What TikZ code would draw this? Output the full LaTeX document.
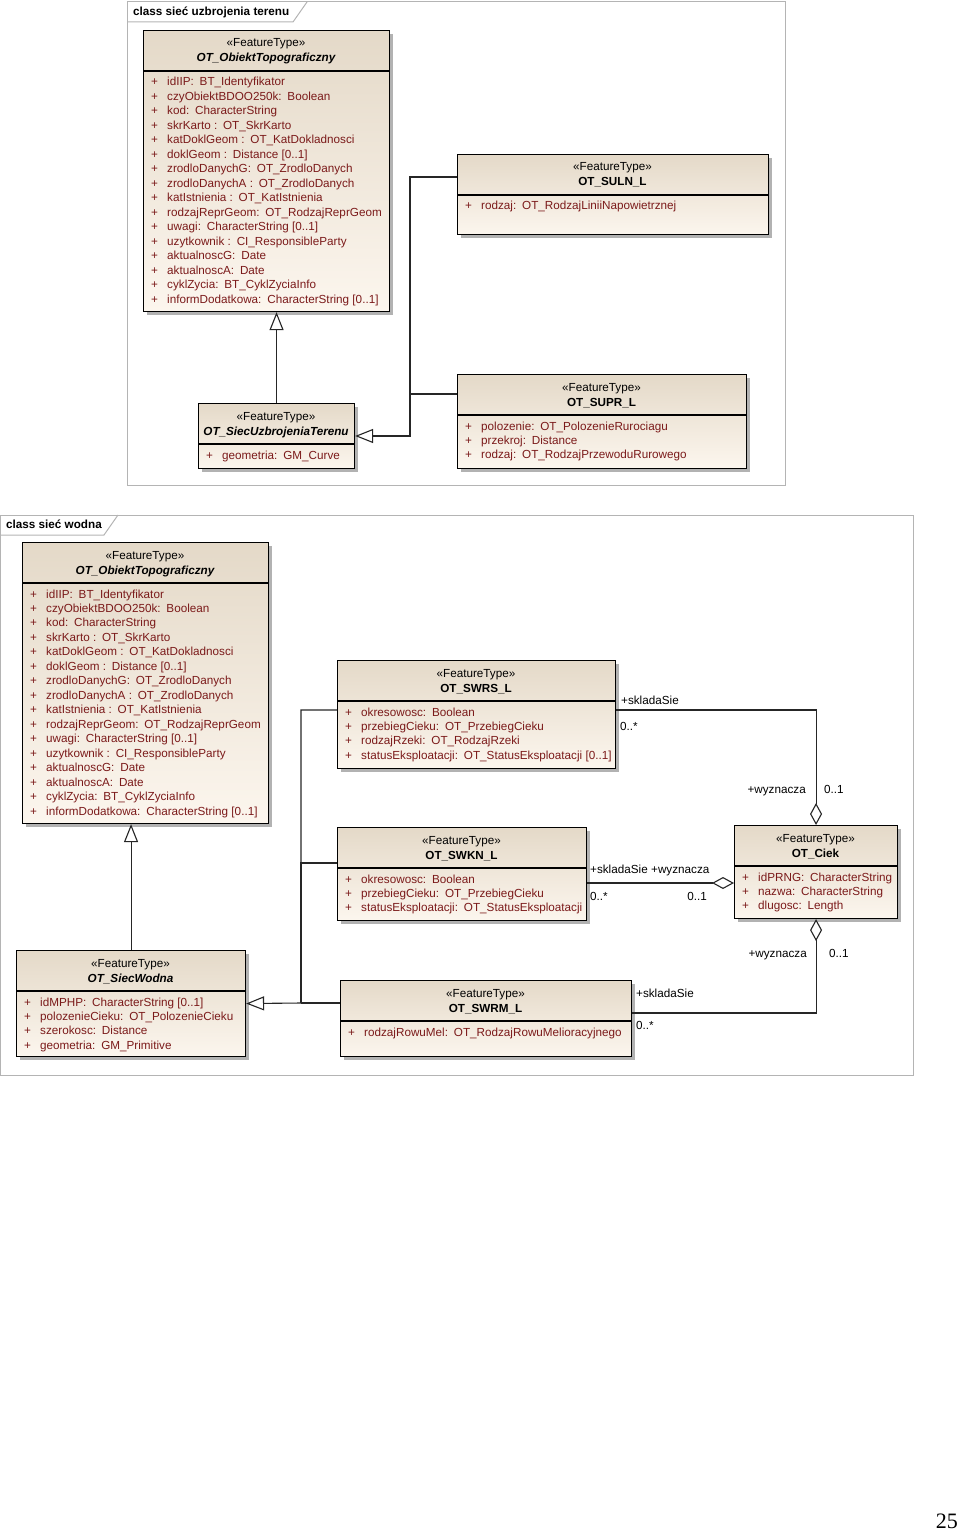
\documentclass[tikz,border=0pt]{standalone}
\usepackage{fontspec}
\setmainfont{Liberation Sans}
\newfontfamily\serifnum{Liberation Serif}
\usetikzlibrary{arrows.meta,shadows,calc}
\definecolor{attr}{HTML}{7B1A1A}
\definecolor{boxtop}{HTML}{E4D9C8}
\definecolor{boxbot}{HTML}{FCF6EE}
\definecolor{framegray}{HTML}{B4B4B4}
\tikzset{
 classbox/.style={draw=black, line width=1.1pt, top color=boxtop, bottom color=boxbot,
   general shadow={fill=black!30, shadow xshift=3pt, shadow yshift=-3pt}, inner sep=0pt, anchor=north west},
 txt/.style={font=\fontsize{11.7}{14}\selectfont, inner sep=0pt},
 attrtxt/.style={txt, text=attr, anchor=base west},
 lbl/.style={txt, anchor=base west},
 conn/.style={draw=black!85, line width=1.1pt},
 gen/.style={conn, -{Triangle[open, width=14pt, length=18pt, fill=white]}},
 agg/.style={conn, {Diamond[open, width=12pt, length=22pt, fill=white]}-},
 framebox/.style={draw=framegray, line width=1pt},
}
\newcommand\cs{:\enspace}
% #1 name #2 x1 #3 y1 #4 x2 #5 y2 #6 title #7 attrs
\newcommand\mkclass[7]{%
 \pgfmathsetmacro\cw{#4-#2}\pgfmathsetmacro\ch{#5-#3}%
 \node[classbox, minimum width=\cw pt, minimum height=\ch pt] (#1) at (#2,#3) {};
 \draw[line width=1.1pt] (#2,#3+41) -- (#4,#3+41);
 \node[txt, anchor=base] (#1-st) at ({(#2+#4)/2},#3+17) {«FeatureType»};
 \node[txt, anchor=base, font=\fontsize{11.7}{14}\selectfont\bfseries] (#1-nm) at ({(#2+#4)/2},#3+32) {#6};
 \foreach \t [count=\i] in {#7} {
   \node[attrtxt] (#1-p\i) at (#2+8, {#3+56+(\i-1)*14.47}) {+};
   \node[attrtxt] (#1-a\i) at (#2+24, {#3+56+(\i-1)*14.47}) {\t};
 }
}
\begin{document}
\begin{tikzpicture}[x=1pt,y=-1pt]
\useasboundingbox (0,0) rectangle (960,1530);
% ---------- frame 1
\draw[framebox] (127,2) rectangle (785,485);
\draw[framebox] (127,22) -- (293,22) -- (307,2);
\node[lbl, font=\fontsize{11.7}{14}\selectfont\bfseries] (f1lbl) at (133,16) {class sieć uzbrojenia terenu};
% ---------- frame 2
\draw[framebox] (0.5,515) rectangle (913,1075);
\draw[framebox] (0.5,535) -- (104,535) -- (118,515);
\node[lbl, font=\fontsize{11.7}{14}\selectfont\bfseries] (f2lbl) at (6,528) {class sieć wodna};

% ---------- classes top
\mkclass{a1}{143}{30}{389}{311}{\itshape OT\_ObiektTopograficzny}{
 idIIP\cs BT\_Identyfikator,
 czyObiektBDOO250k\cs Boolean,
 kod\cs CharacterString,
 skrKarto \cs OT\_SkrKarto,
 katDoklGeom \cs OT\_KatDokladnosci,
 {doklGeom \cs Distance [0..1]},
 zrodloDanychG\cs OT\_ZrodloDanych,
 zrodloDanychA \cs OT\_ZrodloDanych,
 katIstnienia \cs OT\_KatIstnienia,
 rodzajReprGeom\cs OT\_RodzajReprGeom,
 {uwagi\cs CharacterString [0..1]},
 uzytkownik \cs CI\_ResponsibleParty,
 aktualnoscG\cs Date,
 aktualnoscA\cs Date,
 cyklZycia\cs BT\_CyklZyciaInfo,
 {informDodatkowa\cs CharacterString [0..1]}}
\mkclass{suln}{457}{154}{768}{234}{OT\_SULN\_L}{rodzaj\cs OT\_RodzajLiniiNapowietrznej}
\mkclass{supr}{457}{374}{746}{468}{OT\_SUPR\_L}{
 polozenie\cs OT\_PolozenieRurociagu,
 przekroj\cs Distance,
 rodzaj\cs OT\_RodzajPrzewoduRurowego}
\mkclass{siecu}{198}{403}{354}{468}{\itshape OT\_SiecUzbrojeniaTerenu}{geometria\cs GM\_Curve}

% ---------- classes bottom
\mkclass{a2}{22}{542}{268}{823}{\itshape OT\_ObiektTopograficzny}{
 idIIP\cs BT\_Identyfikator,
 czyObiektBDOO250k\cs Boolean,
 kod\cs CharacterString,
 skrKarto \cs OT\_SkrKarto,
 katDoklGeom \cs OT\_KatDokladnosci,
 {doklGeom \cs Distance [0..1]},
 zrodloDanychG\cs OT\_ZrodloDanych,
 zrodloDanychA \cs OT\_ZrodloDanych,
 katIstnienia \cs OT\_KatIstnienia,
 rodzajReprGeom\cs OT\_RodzajReprGeom,
 {uwagi\cs CharacterString [0..1]},
 uzytkownik \cs CI\_ResponsibleParty,
 aktualnoscG\cs Date,
 aktualnoscA\cs Date,
 cyklZycia\cs BT\_CyklZyciaInfo,
 {informDodatkowa\cs CharacterString [0..1]}}
\mkclass{swrs}{337}{660}{615}{768}{OT\_SWRS\_L}{
 okresowosc\cs Boolean,
 przebiegCieku\cs OT\_PrzebiegCieku,
 rodzajRzeki\cs OT\_RodzajRzeki,
 {statusEksploatacji\cs OT\_StatusEksploatacji [0..1]}}
\mkclass{swkn}{337}{827}{586}{920}{OT\_SWKN\_L}{
 okresowosc\cs Boolean,
 przebiegCieku\cs OT\_PrzebiegCieku,
 statusEksploatacji\cs OT\_StatusEksploatacji}
\mkclass{ciek}{734}{825}{897}{918}{OT\_Ciek}{
 idPRNG\cs CharacterString,
 nazwa\cs CharacterString,
 dlugosc\cs Length}
\mkclass{sw}{16}{950}{245}{1056}{\itshape OT\_SiecWodna}{
 {idMPHP\cs CharacterString [0..1]},
 polozenieCieku\cs OT\_PolozenieCieku,
 szerokosc\cs Distance,
 geometria\cs GM\_Primitive}
\mkclass{swrm}{340}{980}{631}{1056}{OT\_SWRM\_L}{rodzajRowuMel\cs OT\_RodzajRowuMelioracyjnego}

% ---------- connectors top
\draw[gen] (siecu.north) -- (siecu.north |- a1.south);
\coordinate (j1) at (410,436);
\draw[gen] ($(suln.north west)+(0,23)$) -| (j1) -- (j1 -| siecu.east);
\draw[conn] ($(supr.north west)+(0,20)$) -| (j1);

% ---------- connectors bottom
\draw[gen] (sw.north) -- (sw.north |- a2.south);
\coordinate (j2) at (301,1003);
\draw[gen] ($(swrs.north west)+(0,50)$) -| (j2) -- (sw.east);
\draw[conn] ($(swkn.north west)+(0,36)$) -| (j2);
\draw[conn] (swrm.west |- j2) -- (j2);

\draw[agg] (ciek.north) |- ($(swrs.north east)+(0,50)$);
\draw[agg] ($(ciek.north west)+(0,58)$) -- ($(swkn.east |- ciek.north west)+(0,58)$);
\draw[agg] (ciek.south) |- ($(swrm.north east)+(0,33)$);

% ---------- association labels
\node[lbl] (l1) at (621,704) {+skladaSie};
\node[lbl] (l2) at (620,730) {0..*};
\node[lbl, anchor=base east] (l3) at (806,793) {+wyznacza};
\node[lbl] (l4) at (824,793) {0..1};
\node[lbl] (l5) at (590,873) {+skladaSie};
\node[lbl] (l6) at (651,873) {+wyznacza};
\node[lbl] (l7) at (590,900) {0..*};
\node[lbl, anchor=base east] (l8) at (707,900) {0..1};
\node[lbl] (l9) at (636,997) {+skladaSie};
\node[lbl] (l10) at (636,1029) {0..*};
\node[lbl, anchor=base east] (l11) at (807,957) {+wyznacza};
\node[lbl] (l12) at (829,957) {0..1};

% page number
\node[anchor=base east, inner sep=0pt, font=\serifnum\fontsize{22}{24}\selectfont] (pg) at (958,1528) {25};
\end{tikzpicture}
\end{document}
